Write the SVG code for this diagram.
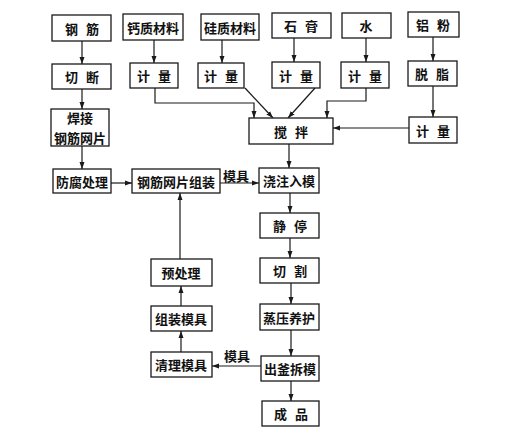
<svg xmlns="http://www.w3.org/2000/svg" width="531" height="436" viewBox="0 0 531 436">
<style>
.b{fill:#fff;stroke:#1a1a1a;stroke-width:1.3}
.t{font-family:"Noto Sans CJK SC","Noto Sans CJK JP",sans-serif;font-size:13px;font-weight:bold;fill:#111;text-anchor:middle;dominant-baseline:central}
.s{letter-spacing:8px}
.c{fill:none;stroke:#1a1a1a;stroke-width:1.2;marker-end:url(#a)}
</style>
<defs>
<marker id="a" markerUnits="userSpaceOnUse" markerWidth="8" markerHeight="6" refX="7" refY="3" orient="auto">
<path d="M0,0.5 L7,3 L0,5.5 Z" fill="#1a1a1a"/>
</marker>
</defs>
<rect width="531" height="436" fill="#fff"/>
<g id="connectors">
<path class="c" d="M82,41 V64"/>
<path class="c" d="M82,89 V109"/>
<path class="c" d="M82,146 V169"/>
<path class="c" d="M154,40 V63"/>
<path class="c" d="M222,40 V63"/>
<path class="c" d="M294,38 V62"/>
<path class="c" d="M366,38 V62"/>
<path class="c" d="M433,37 V61"/>
<path class="c" d="M433,86 V117"/>
<path class="c" d="M155,88 V103 H254 V118"/>
<path class="c" d="M245,88 L273,118"/>
<path class="c" d="M315,88 L288,118"/>
<path class="c" d="M366,88 V101 H327 V118"/>
<path class="c" d="M409,128 H333"/>
<path class="c" d="M289,144 V168"/>
<path class="c" d="M111,183 H132"/>
<path class="c" d="M220,183 H259"/>
<path class="c" d="M290,193 V213"/>
<path class="c" d="M290,238 V258"/>
<path class="c" d="M291,283 V304"/>
<path class="c" d="M291,330 V356"/>
<path class="c" d="M291,381 V401"/>
<path class="c" d="M261,366 H212"/>
<path class="c" d="M181,352 V331"/>
<path class="c" d="M181,306 V286"/>
<path class="c" d="M180,259 V193"/>
<text class="t" x="236" y="175">模具</text>
<text class="t" x="237" y="355">模具</text>
</g>
<g id="n1"><rect class="b" x="52" y="15" width="59" height="26"/><text class="t s" x="86" y="28">钢筋</text></g>
<g id="n2"><rect class="b" x="123" y="14" width="60" height="26"/><text class="t" x="153" y="27">钙质材料</text></g>
<g id="n3"><rect class="b" x="201" y="14" width="58" height="26"/><text class="t" x="230" y="27">硅质材料</text></g>
<g id="n4"><rect class="b" x="272" y="13" width="59" height="25"/><text class="t s" x="305" y="25.5">石膏</text></g>
<g id="n5"><rect class="b" x="342" y="13" width="49" height="25"/><text class="t" x="366" y="25.5">水</text></g>
<g id="n6"><rect class="b" x="408" y="12" width="51" height="25"/><text class="t s" x="437" y="24.5">铝粉</text></g>
<g id="n7"><rect class="b" x="52" y="64" width="59" height="25"/><text class="t s" x="86" y="76.5">切断</text></g>
<g id="n8"><rect class="b" x="130" y="63" width="48" height="25"/><text class="t s" x="158" y="75.5">计量</text></g>
<g id="n9"><rect class="b" x="198" y="63" width="46" height="25"/><text class="t s" x="225" y="75.5">计量</text></g>
<g id="n10"><rect class="b" x="272" y="62" width="48" height="26"/><text class="t s" x="300" y="75">计量</text></g>
<g id="n11"><rect class="b" x="341" y="62" width="48" height="26"/><text class="t s" x="369" y="75">计量</text></g>
<g id="n12"><rect class="b" x="408" y="61" width="49" height="25"/><text class="t s" x="436" y="73.5">脱脂</text></g>
<g id="n13"><rect class="b" x="51" y="109" width="58" height="37"/><text class="t" x="80" y="117.5">焊接</text><text class="t" x="80" y="137">钢筋网片</text></g>
<g id="n14"><rect class="b" x="249" y="118" width="84" height="26"/><text class="t s" x="295" y="131">搅拌</text></g>
<g id="n15"><rect class="b" x="409" y="117" width="48" height="26"/><text class="t s" x="437" y="130">计量</text></g>
<g id="n16"><rect class="b" x="53" y="169" width="58" height="24"/><text class="t" x="82" y="181">防腐处理</text></g>
<g id="n17"><rect class="b" x="132" y="169" width="88" height="24"/><text class="t" x="176" y="181">钢筋网片组装</text></g>
<g id="n18"><rect class="b" x="259" y="168" width="60" height="25"/><text class="t" x="289" y="180.5">浇注入模</text></g>
<g id="n19"><rect class="b" x="260" y="213" width="59" height="25"/><text class="t s" x="294" y="225.5">静停</text></g>
<g id="n20"><rect class="b" x="260" y="258" width="59" height="25"/><text class="t s" x="294" y="270.5">切割</text></g>
<g id="n21"><rect class="b" x="151" y="259" width="61" height="27"/><text class="t" x="181" y="272.5">预处理</text></g>
<g id="n22"><rect class="b" x="151" y="306" width="61" height="25"/><text class="t" x="181" y="318.5">组装模具</text></g>
<g id="n23"><rect class="b" x="260" y="304" width="59" height="26"/><text class="t" x="289" y="317">蒸压养护</text></g>
<g id="n24"><rect class="b" x="151" y="352" width="61" height="25"/><text class="t" x="181" y="364.5">清理模具</text></g>
<g id="n25"><rect class="b" x="261" y="356" width="58" height="25"/><text class="t" x="290" y="368.5">出釜拆模</text></g>
<g id="n26"><rect class="b" x="262" y="401" width="57" height="25"/><text class="t s" x="295" y="413.5">成品</text></g>
</svg>
